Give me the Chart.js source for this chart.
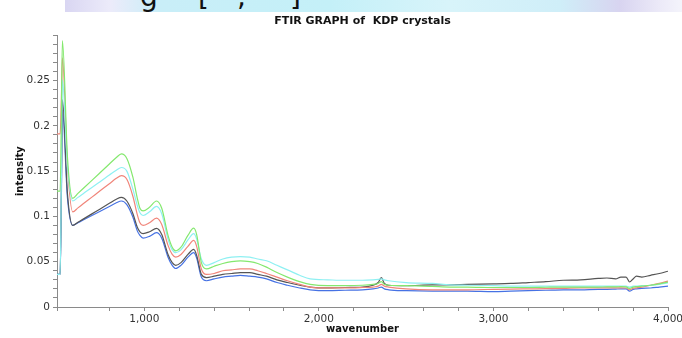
<!DOCTYPE html>
<html>
<head>
<meta charset="utf-8">
<title>FTIR GRAPH of KDP crystals</title>
<script src="https://cdn.jsdelivr.net/npm/chart.js@4"></script>
<style>
  html, body { margin: 0; padding: 0; background: #fff; }
  #wrap { position: relative; width: 682px; height: 338px; overflow: hidden; }
  #band {
    position: absolute; left: 65px; top: 0; width: 617px; height: 12px; overflow: hidden;
    background: linear-gradient(to right, #d9d6f2 0px, #ecebfa 45px, #c9eef8 95px, #c4f0f8 265px,
                #d8f4fa 385px, #cfeef8 495px, #d8d4f0 555px, #eceaf8 595px, #f4f4fb 617px);
  }
  #band span { position: absolute; top: -20px; font: 28px "DejaVu Sans", sans-serif; color: #111; }
  canvas { position: absolute; left: 0; top: 0; }
</style>
</head>
<body>
<div id="wrap">
  <canvas id="chart" width="682" height="338"></canvas>
  <div id="band"><span style="left:75px">g</span><span style="left:133px">[</span><span style="left:172px">,</span><span style="left:225px">]</span></div>
</div>
<script>
// x values (wavenumber) shared by all spectra
const wavenumber = [500, 518, 525, 531, 560, 590, 620, 650, 700, 745, 800, 840, 869, 900, 935, 960, 975, 993, 1030,
  1070, 1100, 1136, 1160, 1180, 1210, 1250, 1283, 1300, 1327, 1356, 1400, 1450, 1500, 1550, 1604, 1650, 1700, 1760,
  1820, 1890, 1950, 2050, 2150, 2250, 2310, 2340, 2358, 2375, 2400, 2500, 2650, 2750, 2850, 3000, 3100, 3200, 3300,
  3400, 3500, 3600, 3650, 3700, 3730, 3760, 3780, 3800, 3820, 3850, 3900, 3950, 4000];

// intensity of each sample
const greenVals = [0.128, 0.128, 0.21, 0.294, 0.165, 0.120, 0.1254, 0.1308, 0.1398, 0.1479, 0.1578, 0.165, 0.169, 0.164,
  0.143, 0.120, 0.109, 0.106, 0.110, 0.117, 0.109, 0.079, 0.066, 0.062, 0.066, 0.079, 0.087, 0.080, 0.049, 0.042,
  0.045, 0.048, 0.050, 0.051, 0.050, 0.048, 0.044, 0.038, 0.033, 0.028, 0.025, 0.0235, 0.0235, 0.024, 0.025, 0.026,
  0.028, 0.025, 0.024, 0.0235, 0.0227, 0.022, 0.022, 0.0215, 0.0215, 0.0215, 0.0218, 0.022, 0.022, 0.022, 0.0222,
  0.0222, 0.0225, 0.0222, 0.0205, 0.022, 0.0225, 0.023, 0.024, 0.0255, 0.0275];
const cyanVals = [0.036, 0.036, 0.14, 0.251, 0.155, 0.117, 0.121, 0.125, 0.132, 0.138, 0.1456, 0.151, 0.154, 0.150,
  0.130, 0.112, 0.104, 0.101, 0.105, 0.111, 0.103, 0.075, 0.063, 0.060, 0.063, 0.074, 0.081, 0.075, 0.053, 0.046,
  0.049, 0.053, 0.055, 0.0555, 0.055, 0.053, 0.051, 0.046, 0.041, 0.035, 0.031, 0.030, 0.0295, 0.0295, 0.030, 0.0305,
  0.031, 0.030, 0.029, 0.027, 0.026, 0.0245, 0.024, 0.0235, 0.023, 0.023, 0.023, 0.023, 0.023, 0.023, 0.023,
  0.023, 0.0232, 0.023, 0.022, 0.023, 0.0232, 0.0235, 0.024, 0.025, 0.0265];
const redVals = [0.191, 0.191, 0.23, 0.275, 0.155, 0.105, 0.1094, 0.1139, 0.1213, 0.128, 0.136, 0.142, 0.145, 0.141,
  0.122, 0.102, 0.093, 0.090, 0.093, 0.098, 0.091, 0.068, 0.058, 0.055, 0.058, 0.067, 0.0735, 0.067, 0.042, 0.036,
  0.037, 0.040, 0.041, 0.042, 0.042, 0.040, 0.037, 0.033, 0.029, 0.025, 0.022, 0.021, 0.021, 0.0215, 0.022, 0.023,
  0.025, 0.023, 0.022, 0.020, 0.019, 0.019, 0.019, 0.0195, 0.0198, 0.020, 0.0202, 0.0205, 0.021, 0.021, 0.021,
  0.021, 0.0212, 0.021, 0.019, 0.0205, 0.0212, 0.022, 0.024, 0.026, 0.0285];
const blackVals = [0.036, 0.036, 0.13, 0.229, 0.125, 0.090, 0.0935, 0.097, 0.1028, 0.108, 0.1144, 0.119, 0.121, 0.117,
  0.103, 0.088, 0.083, 0.081, 0.083, 0.0867, 0.080, 0.058, 0.049, 0.046, 0.049, 0.058, 0.0635, 0.057, 0.036, 0.0325,
  0.034, 0.036, 0.037, 0.038, 0.038, 0.036, 0.034, 0.030, 0.027, 0.024, 0.022, 0.021, 0.0215, 0.022, 0.024, 0.027,
  0.0325, 0.026, 0.024, 0.0235, 0.0245, 0.0245, 0.025, 0.0255, 0.026, 0.027, 0.028, 0.0295, 0.030, 0.0315, 0.032,
  0.031, 0.033, 0.033, 0.0276, 0.031, 0.034, 0.033, 0.035, 0.037, 0.0395];
const blueVals = [0.036, 0.036, 0.12, 0.2175, 0.12, 0.090, 0.093, 0.096, 0.101, 0.1055, 0.111, 0.115, 0.117, 0.113,
  0.099, 0.084, 0.079, 0.076, 0.078, 0.082, 0.076, 0.055, 0.046, 0.0425, 0.046, 0.055, 0.060, 0.054, 0.033, 0.029,
  0.031, 0.033, 0.034, 0.035, 0.034, 0.033, 0.031, 0.027, 0.024, 0.021, 0.019, 0.018, 0.0185, 0.019, 0.020, 0.021,
  0.022, 0.020, 0.019, 0.018, 0.0175, 0.0175, 0.0175, 0.017, 0.0175, 0.018, 0.0185, 0.019, 0.019, 0.0195, 0.0195,
  0.0198, 0.020, 0.020, 0.0175, 0.0195, 0.020, 0.0205, 0.021, 0.022, 0.023];

const seriesColors = ['#84e86e', '#8ef0f2', '#f0857a', '#555555', '#4672e4'];

function toPoints(vals) {
  return wavenumber.map((w, i) => ({ x: w, y: vals[i] }));
}

const datasets = [greenVals, cyanVals, redVals, blackVals, blueVals].map((vals, i) => ({
  data: toPoints(vals),
  borderColor: seriesColors[i],
  borderWidth: 1.2,
  pointRadius: 0,
  fill: false,
  cubicInterpolationMode: 'monotone'
}));

const axisColor = '#8a8a8a';
const labelFont = { family: '"DejaVu Sans", sans-serif', size: 10.5 };

new Chart(document.getElementById('chart'), {
  type: 'line',
  data: { datasets: datasets },
  options: {
    responsive: false,
    devicePixelRatio: 1,
    animation: false,
    layout: { padding: { left: 0, right: 14, top: 0, bottom: 0 } },
    plugins: {
      legend: { display: false },
      tooltip: { enabled: false },
      title: {
        display: true,
        fullSize: false,
        text: 'FTIR GRAPH of  KDP crystals',
        color: '#111',
        font: { family: '"DejaVu Sans", sans-serif', size: 11, weight: 'bold' },
        padding: { top: 15, bottom: 7 }
      }
    },
    scales: {
      x: {
        type: 'linear',
        min: 500,
        max: 4000,
        border: { color: axisColor },
        grid: { drawOnChartArea: false, tickLength: 4, tickColor: axisColor },
        ticks: {
          stepSize: 200,
          autoSkip: false,
          maxRotation: 0,
          padding: 2,
          color: '#333',
          font: labelFont,
          callback: (v) => (v % 1000 === 0 ? v.toLocaleString('en-US') : '')
        },
        title: {
          display: true,
          text: 'wavenumber',
          color: '#111',
          font: { family: '"DejaVu Sans", sans-serif', size: 10, weight: 'bold' },
          padding: { top: 0, bottom: 3 }
        },
        afterFit: (scale) => {
          scale.height = 31;
          scale.paddingLeft = 0;
          scale.paddingRight = 0;
        }
      },
      y: {
        min: 0,
        max: 0.3,
        border: { color: axisColor },
        grid: { drawOnChartArea: false, tickLength: 4, tickColor: axisColor },
        ticks: {
          stepSize: 0.01,
          autoSkip: false,
          padding: 3,
          color: '#333',
          font: labelFont,
          callback: (v) => {
            const r = Math.round(v * 100);
            return (r % 5 === 0 && r !== 30) ? String(r / 100) : '';
          }
        },
        title: {
          display: true,
          text: 'intensity',
          color: '#111',
          font: { family: '"DejaVu Sans", sans-serif', size: 10, weight: 'bold' },
          padding: { top: 14, bottom: 0 }
        },
        afterFit: (scale) => {
          scale.width = 57;
        }
      }
    }
  }
});
</script>
</body>
</html>
